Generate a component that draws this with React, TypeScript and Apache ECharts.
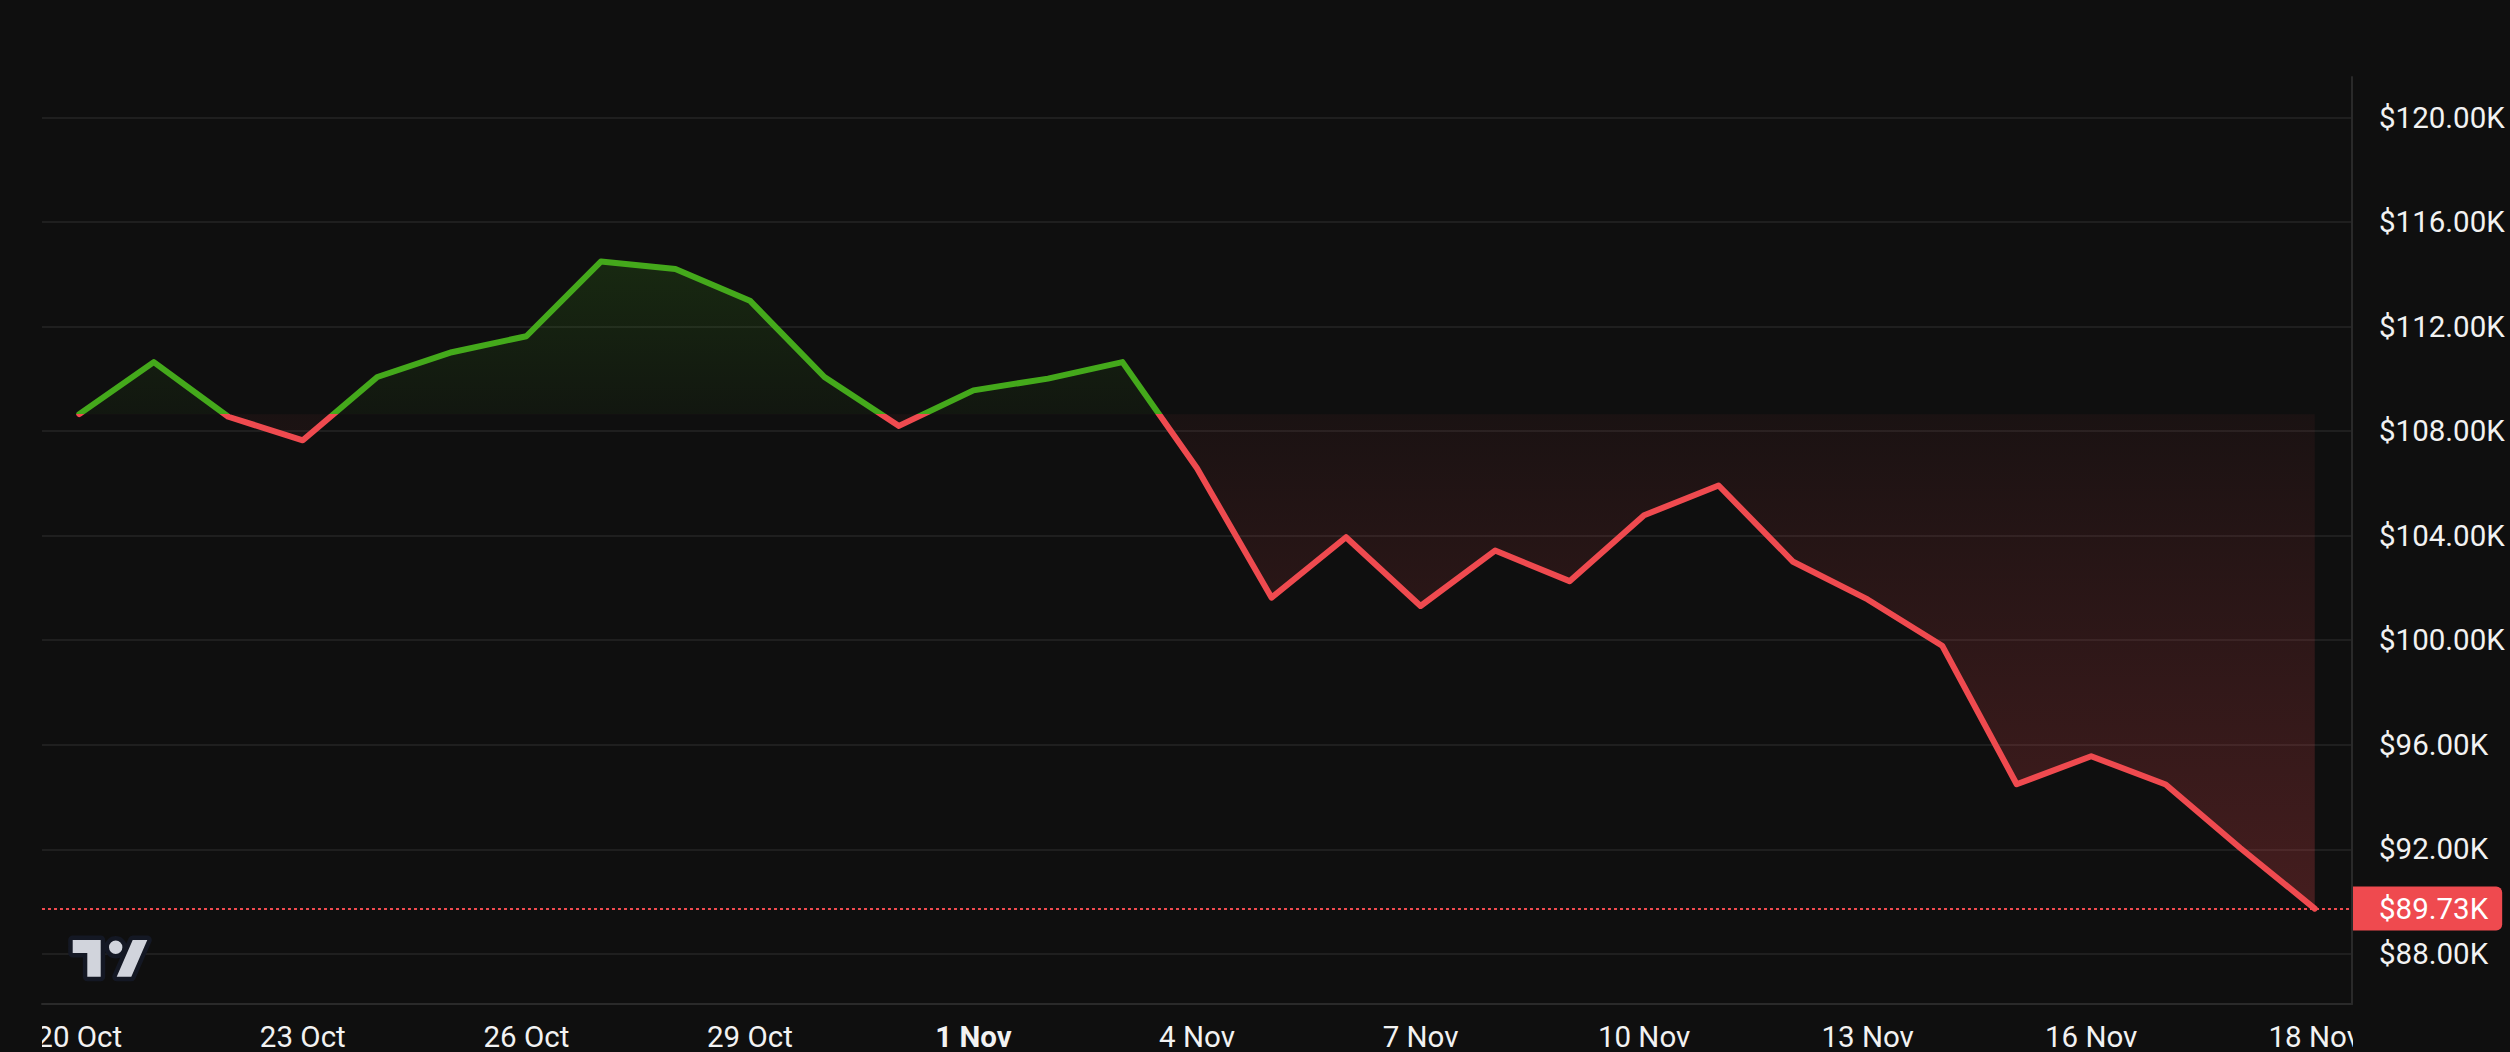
import React, { useEffect, useRef } from "react";
import * as echarts from "echarts";

// ---- data ----
const DAYS = [
  "20 Oct", "21 Oct", "22 Oct", "23 Oct", "24 Oct", "25 Oct", "26 Oct", "27 Oct", "28 Oct", "29 Oct", "30 Oct", "31 Oct",
  "1 Nov", "2 Nov", "3 Nov", "4 Nov", "5 Nov", "6 Nov", "7 Nov", "8 Nov", "9 Nov", "10 Nov", "11 Nov", "12 Nov",
  "13 Nov", "14 Nov", "15 Nov", "16 Nov", "17 Nov", "18 Nov 00h", "18 Nov",
];
const PRICES = [
  108650, 110640, 108550, 107650, 110070, 111020, 111630, 114490, 114200, 112990, 110070, 108200,
  109560, 110010, 110640, 106580, 101630, 103940, 101310, 103430, 102260, 104780, 105920, 103000,
  101560, 99790, 94490, 95560, 94480, 92050, 89730,
];
const TICK_INDEX = [0, 3, 6, 9, 12, 15, 18, 21, 24, 27, 30];
const TICK_LABELS = ["20 Oct", "23 Oct", "26 Oct", "29 Oct", "1 Nov", "4 Nov", "7 Nov", "10 Nov", "13 Nov", "16 Nov", "18 Nov"];
const BOLD_LABELS = ["1 Nov"];
const Y_MIN = 86080;
const Y_MAX = 121550;
const Y_STEP = 4000;

// ---- styles ----
const BG = "#0f0f0f";
const GREEN = "#44a91b";
const RED = "#ef4a4f";
const TXT = "#f2f2f2";
const AXIS = "#2a2a2a";
const GRIDC = "#1f1f1f";
const FONT = "Roboto, 'Liberation Sans', sans-serif";
const FS = 29.5;

const LOGO_D =
  "M0 0H28V36.7H14.6V13H0Z M60 0H74.6L58.6 36.7H44Z M36.3 7.3a6.7 6.7 0 1 0 13.4 0a6.7 6.7 0 1 0 -13.4 0Z";
echarts.graphic.registerShape("tvlogo", echarts.graphic.extendPath(LOGO_D, {}));

const fmtK = (v: number) => "$" + (v / 1000).toFixed(2) + "K";

export default function App() {
  const ref = useRef<HTMLDivElement>(null);

  useEffect(() => {
    if (!ref.current) return;
    const chart = echarts.init(ref.current, null, { renderer: "svg" });
    const BASE = PRICES[0];
    const LAST = PRICES[PRICES.length - 1];
    const hi = Math.max(...PRICES);
    const lo = Math.min(...PRICES);
    const off = (hi - BASE) / (hi - lo);

    const option: any = {
      backgroundColor: BG,
      animation: false,
      textStyle: { fontFamily: FONT },
      grid: { left: 42, right: 158, top: 77, bottom: 44 },
      xAxis: {
        type: "category",
        data: DAYS,
        boundaryGap: true,
        axisLine: { show: true, lineStyle: { color: AXIS, width: 2 } },
        axisTick: { show: false },
        splitLine: { show: false },
        axisLabel: {
          interval: (i: number) => TICK_INDEX.includes(i),
          formatter: (_v: string, i: number) => {
            const k = TICK_INDEX.indexOf(i);
            const t = k >= 0 ? TICK_LABELS[k] : "";
            return BOLD_LABELS.includes(t) ? `{b|${t}}` : t;
          },
          color: TXT,
          fontSize: FS,
          fontFamily: FONT,
          margin: 18,
          rich: { b: { fontWeight: "bold", fontSize: FS, color: TXT, fontFamily: FONT } },
        },
      },
      yAxis: {
        type: "value",
        position: "right",
        min: Y_MIN,
        max: Y_MAX,
        minInterval: Y_STEP,
        maxInterval: Y_STEP,
        splitNumber: 8,
        axisLine: { show: true, lineStyle: { color: AXIS, width: 2 } },
        axisTick: { show: false },
        splitLine: { show: true, showMinLine: false, showMaxLine: false, lineStyle: { color: GRIDC, width: 2 } },
        axisLabel: {
          color: TXT,
          fontSize: FS,
          fontFamily: FONT,
          margin: 27,
          formatter: fmtK,
          showMinLabel: false,
          showMaxLabel: false,
        },
      },
      visualMap: {
        type: "piecewise",
        show: false,
        dimension: 1,
        seriesIndex: 0,
        pieces: [
          { gt: BASE, lte: Y_MAX, color: GREEN },
          { gte: Y_MIN, lte: BASE, color: RED },
        ],
        outOfRange: { color: RED },
      },
      series: [
        {
          type: "line",
          data: PRICES,
          symbol: "none",
          showSymbol: false,
          silent: true,
          lineStyle: { width: 6, cap: "round", join: "round" },
          areaStyle: {
            origin: BASE,
            opacity: 1,
            color: new echarts.graphic.LinearGradient(0, 0, 0, 1, [
              { offset: 0, color: "rgba(68,169,27,0.17)" },
              { offset: off, color: "rgba(68,169,27,0.05)" },
              { offset: off, color: "rgba(239,74,79,0.05)" },
              { offset: 1, color: "rgba(239,74,79,0.24)" },
            ]),
          },
          markLine: {
            silent: true,
            symbol: ["none", "none"],
            animation: false,
            lineStyle: { color: RED, type: [3, 3], width: 2 },
            label: {
              show: true,
              position: "end",
              distance: 1,
              formatter: () => fmtK(LAST),
              color: "#ffffff",
              fontSize: FS,
              fontFamily: FONT,
              backgroundColor: RED,
              lineHeight: 44,
              padding: [0, 14, 0, 26],
              borderRadius: [0, 6, 6, 0],
            },
            data: [{ yAxis: LAST }],
          },
        },
      ],
      graphic: [
        { type: "rect", x: 0, y: 1010, shape: { width: 42, height: 42 }, style: { fill: BG }, z: 100, zlevel: 0, silent: true },
        { type: "rect", x: 2353, y: 1010, shape: { width: 157, height: 42 }, style: { fill: BG }, z: 100, silent: true },
        {
          type: "tvlogo",
          x: 72.7,
          y: 940,
          style: { fill: "#141824", stroke: "#141824", lineWidth: 9, lineJoin: "round" },
          z: 50,
          silent: true,
        },
        { type: "tvlogo", x: 72.7, y: 940, style: { fill: "#d1d4dc" }, z: 51, silent: true },
      ],
    };

    chart.setOption(option);
    return () => chart.dispose();
  }, []);

  return (
    <div
      ref={ref}
      style={{ position: "fixed", left: 0, top: 0, width: 2510, height: 1052, background: BG }}
    />
  );
}
